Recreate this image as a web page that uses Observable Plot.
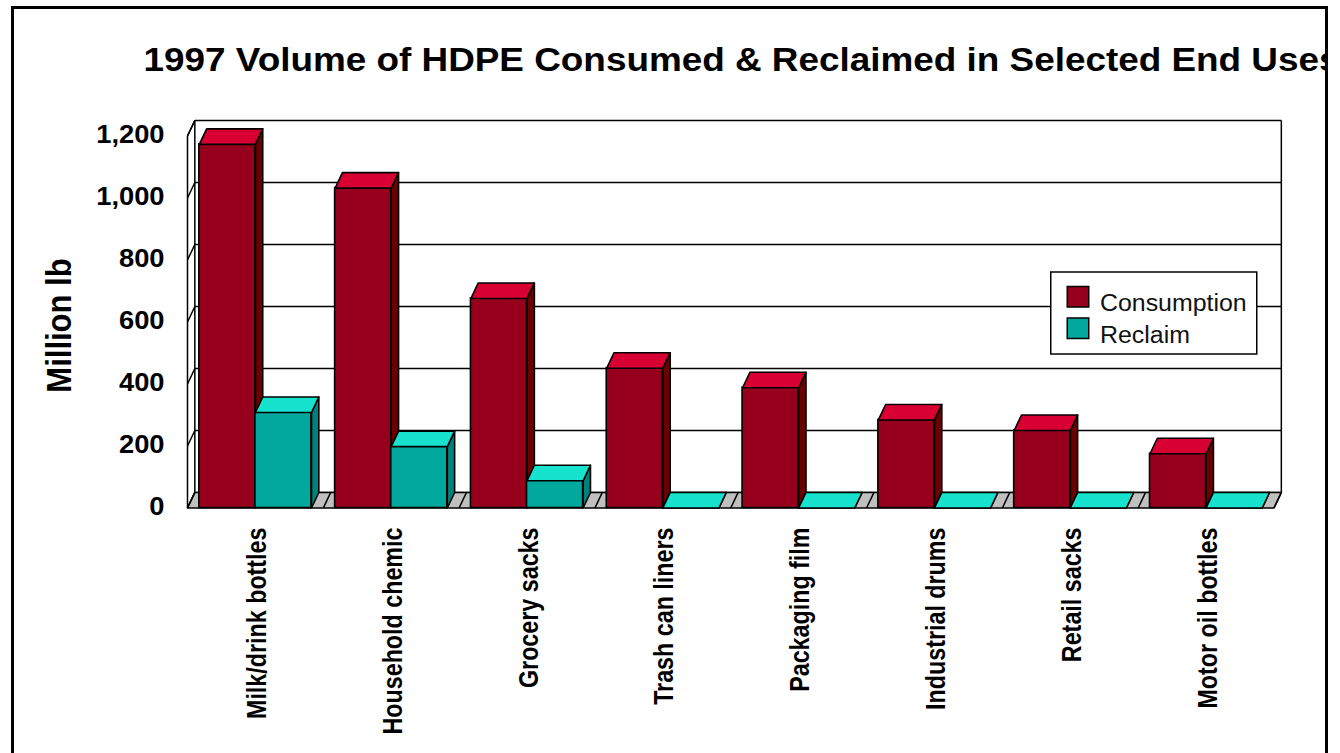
<!DOCTYPE html>
<html>
<head>
<meta charset="utf-8">
<script src="https://cdn.jsdelivr.net/npm/d3@7"></script>
<script src="https://cdn.jsdelivr.net/npm/@observablehq/plot@0.6"></script>
<style>
  html, body { margin: 0; padding: 0; background: #fff; overflow: hidden; }
  #border {
    position: absolute; left: 11px; top: 6px; width: 1311px; height: 800px;
    border: 3px solid #000; border-bottom: none; overflow: hidden; background: #fff;
  }
  #chart { position: absolute; left: -14px; top: -9px; width: 1340px; height: 753px; }
</style>
</head>
<body>
<div id="border"><div id="chart"></div></div>
<script>
// ---- data ----
const categories = [
  "Milk/drink bottles", "Household chemic", "Grocery sacks", "Trash can liners",
  "Packaging film", "Industrial drums", "Retail sacks", "Motor oil bottles"
];
const consumption = [1173, 1032, 676, 451, 388, 284, 250, 175];
const reclaim = [308, 198, 88, 0, 0, 0, 0, 0];
const seriesNames = ["Consumption", "Reclaim"];
const yTicks = [0, 200, 400, 600, 800, 1000, 1200];
const TITLE = "1997 Volume of HDPE Consumed & Reclaimed in Selected End Uses";
const Y_LABEL = "Million lb";

// ---- styling / 3-D geometry ----
const FONT = '"Liberation Sans", Arial, Helvetica, sans-serif';
const palette = {
  Consumption: {front: "#96001c", top: "#d80032", side: "#6a0000"},
  Reclaim: {front: "#00a89e", top: "#16e2ce", side: "#00827c"}
};
const n = categories.length;
const BAR_W = 0.413;                 // width of one column, in category units
const GAP = (1 - 2 * BAR_W) / 2;     // space either side of a column pair
const DEPTH_X = 0.054;               // oblique depth offset, category units
const DEPTH_Y = 50;                  // oblique depth offset, value units
const Y_MAX = 1200;
const LINE = 1.6;

const seriesValues = [consumption, reclaim];
const boxes = seriesNames.flatMap((name, j) =>
  seriesValues[j].map((v, i) => ({
    name, i, v,
    x1: i + GAP + j * BAR_W,
    x2: i + GAP + (j + 1) * BAR_W
  }))
);

// top and side faces of each column as closed polygons
const tops = boxes.flatMap((b, k) =>
  [[b.x1, b.v], [b.x2, b.v], [b.x2 + DEPTH_X, b.v + DEPTH_Y], [b.x1 + DEPTH_X, b.v + DEPTH_Y]]
    .map(([x, y]) => ({id: k, name: b.name, x, y}))
);
const sides = boxes.flatMap((b, k) =>
  [[b.x2, 0], [b.x2 + DEPTH_X, DEPTH_Y], [b.x2 + DEPTH_X, b.v + DEPTH_Y], [b.x2, b.v]]
    .map(([x, y]) => ({id: k, name: b.name, x, y}))
);

// floor parallelogram and wall edges
const floor = [[0, 0], [n, 0], [n + DEPTH_X, DEPTH_Y], [DEPTH_X, DEPTH_Y]].map(([x, y]) => ({x, y}));
const wallEdges = [
  {x1: 0, y1: 0, x2: 0, y2: Y_MAX},
  {x1: DEPTH_X, y1: DEPTH_Y, x2: DEPTH_X, y2: Y_MAX + DEPTH_Y},
  {x1: n + DEPTH_X, y1: DEPTH_Y, x2: n + DEPTH_X, y2: Y_MAX + DEPTH_Y},
  {x1: 0, y1: Y_MAX, x2: DEPTH_X, y2: Y_MAX + DEPTH_Y}
];

const barMarks = seriesNames.flatMap((name) => [
  Plot.rect(boxes.filter((b) => b.name === name && b.v > 0), {
    x1: "x1", x2: "x2", y1: () => 0, y2: "v",
    fill: palette[name].front, stroke: "black", strokeWidth: LINE
  }),
  Plot.line(sides.filter((p) => p.name === name), {
    x: "x", y: "y", z: "id", curve: "linear-closed",
    fill: palette[name].side, stroke: "black", strokeWidth: LINE
  }),
  Plot.line(tops.filter((p) => p.name === name), {
    x: "x", y: "y", z: "id", curve: "linear-closed",
    fill: palette[name].top, stroke: "black", strokeWidth: LINE
  })
]);

const chart = Plot.plot({
  width: 1340,
  height: 753,
  margin: 0,
  style: {fontFamily: FONT, background: "white", color: "black"},
  x: {type: "linear", domain: [0, n], range: [187, 1273.5], axis: null},
  y: {type: "linear", domain: [0, Y_MAX], range: [507.5, 135.5], axis: null},
  marks: [
    // back-wall gridlines
    Plot.link(yTicks, {
      x1: () => DEPTH_X, x2: () => n + DEPTH_X,
      y1: (d) => d + DEPTH_Y, y2: (d) => d + DEPTH_Y,
      stroke: "black", strokeWidth: 1.5
    }),
    // side-wall tick diagonals
    Plot.link(yTicks, {
      x1: () => 0, y1: (d) => d, x2: () => DEPTH_X, y2: (d) => d + DEPTH_Y,
      stroke: "black", strokeWidth: 1.5
    }),
    Plot.link(wallEdges, {x1: "x1", y1: "y1", x2: "x2", y2: "y2", stroke: "black", strokeWidth: 1.5}),
    // floor
    Plot.line(floor, {x: "x", y: "y", curve: "linear-closed", fill: "#c0c0c0", stroke: "black", strokeWidth: LINE}),
    Plot.link(d3.range(0, n + 1), {
      x1: (d) => d, y1: () => 0, x2: (d) => d + DEPTH_X, y2: () => DEPTH_Y,
      stroke: "black", strokeWidth: LINE
    }),
    ...barMarks,
    // value axis labels
    Plot.text(yTicks, {
      x: () => 0, y: (d) => d, text: (d) => d3.format(",")(d),
      textAnchor: "end", lineAnchor: "middle", dx: -23, dy: -1,
      fontSize: 26.5, fontWeight: "bold", fill: "black"
    }),
    // category labels
    Plot.text(categories, {
      x: (d, i) => i + 0.5, y: () => 0, text: (d) => d,
      rotate: -90, textAnchor: "end", lineAnchor: "middle", dx: 2, dy: 19.5,
      fontSize: 23.3, fontWeight: "bold", fill: "black"
    }),
    // axis title
    Plot.text([Y_LABEL], {
      frameAnchor: "top-left", text: (d) => d, rotate: -90,
      textAnchor: "middle", lineAnchor: "middle", dx: 58.5, dy: 325,
      fontSize: 31, fontWeight: "bold", fill: "black"
    }),
    // chart title
    Plot.text([TITLE], {
      frameAnchor: "top-left", text: (d) => d,
      textAnchor: "start", lineAnchor: "middle", dx: 143, dy: 60,
      fontSize: 32.5, fontWeight: "bold", fill: "black"
    })
  ]
});

// Slightly widen the bold labels (horizontal stretch for flat text,
// across-the-line stretch for the rotated ones).
const stretch = new Map([
  [TITLE, "scale(1.135,1)"],
  [Y_LABEL, "scale(1,1.16)"],
  ...categories.map((c) => [c, "scale(1,1.15)"]),
  ...yTicks.map((t) => [d3.format(",")(t), "scale(1.03,1)"])
]);
d3.select(chart).selectAll("text").each(function () {
  const s = stretch.get(this.textContent);
  if (!s) return;
  let t = this.getAttribute("transform");
  if (!t) {
    const x = +this.getAttribute("x") || 0, y = +this.getAttribute("y") || 0;
    this.removeAttribute("x"); this.removeAttribute("y");
    t = `translate(${x},${y})`;
  }
  this.setAttribute("transform", `${t} ${s}`);
});

// Legend box
const legend = d3.select(chart).append("g")
  .attr("font-family", FONT).attr("text-anchor", "start");
legend.append("rect")
  .attr("x", 1050.75).attr("y", 272).attr("width", 206).attr("height", 82)
  .attr("fill", "white").attr("stroke", "black").attr("stroke-width", 1.5);
seriesNames.forEach((name, j) => {
  const top = j === 0 ? 286.5 : 318;
  legend.append("rect")
    .attr("x", 1067.25).attr("y", top).attr("width", 21.5).attr("height", 20.5)
    .attr("fill", palette[name].front).attr("stroke", "black").attr("stroke-width", 1.5);
  legend.append("text")
    .attr("text-anchor", "start")
    .attr("transform", `translate(1100,${j === 0 ? 310.5 : 343}) scale(1.06,1)`)
    .attr("font-size", 23.5).attr("fill", "#111").text(name);
});

document.getElementById("chart").appendChild(chart);
</script>
</body>
</html>
